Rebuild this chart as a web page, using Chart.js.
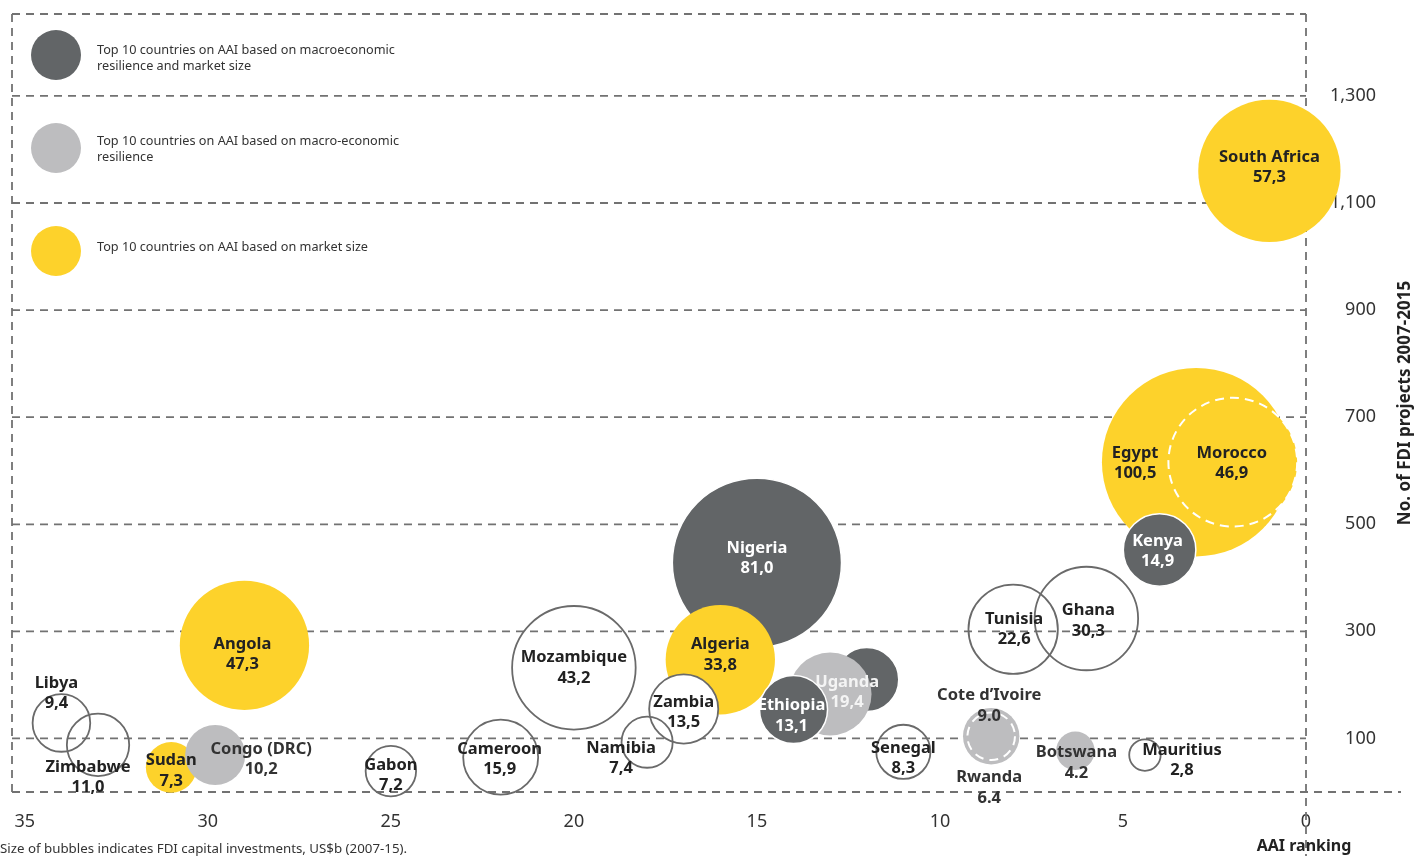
<!DOCTYPE html>
<html>
<head>
<meta charset="utf-8">
<script src="https://cdn.jsdelivr.net/npm/chart.js@4.4.0/dist/chart.umd.min.js"></script>
<style>
  html, body { margin: 0; padding: 0; background: #fff; }
  #wrap { width: 1415px; height: 856px; }
</style>
</head>
<body>
<div id="wrap"><canvas id="myChart" width="1415" height="856"></canvas></div>
<script>
// data, in drawing order (later ones sit on top)
let countries = ["Libya", "Zimbabwe", "Sudan", "Congo (DRC)", "Angola", "Gabon", "Cameroon", "Mozambique",
  "Nigeria", "Algeria", "Zambia", "Namibia", "Tanzania", "Uganda", "Ethiopia", "Senegal",
  "Cote d\u2019Ivoire", "Rwanda", "Tunisia", "Ghana", "Botswana", "Mauritius", "Egypt", "Morocco", "Kenya", "South Africa"];
let aaiRank = [34, 33, 31, 29.8, 29, 25, 22, 20, 15, 16, 17, 18, 12, 13, 14, 11, 8.6, 8.6, 8, 6, 6.3, 4.4, 3, 2, 4, 1];
let fdiProjects = [129, 88, 46, 69, 274, 39, 65, 232, 428, 247, 155, 93, 210, 183, 154, 75, 104, 104, 304, 324, 77, 69, 616, 616, 452, 1160];
let capital = [9.4, 11.0, 7.3, 10.2, 47.3, 7.2, 15.9, 43.2, 81.0, 33.8, 13.5, 7.4, 11.6, 19.4, 13.1, 8.3, 9.0, 6.4, 22.6, 30.3, 4.2, 2.8, 100.5, 46.9, 14.9, 57.3];
let group = ["none", "none", "market", "macro", "market", "none", "none", "none", "both", "market", "none", "none", "both", "macro", "both", "none",
  "macro", "macro", "none", "none", "macro", "none", "market", "market", "both", "market"];

let rankTicks = [35, 30, 25, 20, 15, 10, 5, 0];
let projectTicks = [100, 300, 500, 700, 900, 1100, 1300];

let legendGroups = ["both", "macro", "market"];
let legendLines = [
  ["Top 10 countries on AAI based on macroeconomic", "resilience and market size"],
  ["Top 10 countries on AAI based on macro-economic", "resilience"],
  ["Top 10 countries on AAI based on market size"],
];

// styles
const FONT = "'Noto Sans', sans-serif";
const fills = { both: "#626567", macro: "#bdbdbf", market: "#fdd22b", none: "rgba(255,255,255,0)" };
const textColors = { both: "#ffffff", macro: "#333333", market: "#222222", none: "#222222" };
const whiteFill = ["Zambia"];
const dashedRing = ["Morocco", "Rwanda"];
const dotDecimal = ["Cote d\u2019Ivoire", "Rwanda", "Botswana"];
const whiteText = ["Uganda"];
// label block centre, relative to the bubble centre (px)
const labelOffset = {
  "South Africa": [0, -4], "Egypt": [-61, 1], "Morocco": [-1, 1], "Kenya": [-2, 1], "Nigeria": [0, -5],
  "Tunisia": [1, 0], "Ghana": [2, 2], "Tanzania": [46, -25], "Mozambique": [0, 0], "Algeria": [0, -5],
  "Angola": [-2, 9], "Zambia": [0, 3], "Uganda": [17, -2], "Ethiopia": [-2, 6], "Cote d\u2019Ivoire": [-2, -31],
  "Rwanda": [-2, 51], "Senegal": [0, 6], "Botswana": [1, 12], "Mauritius": [37, 5], "Libya": [-5, -30],
  "Zimbabwe": [-10, 32], "Sudan": [0, 3], "Congo (DRC)": [46, 4], "Gabon": [0, 4], "Cameroon": [-1, 2], "Namibia": [-26, 16],
};
const K = 9.4; // bubble radius = K * sqrt(capital)

let bubbleData = [];
let bg = [], border = [], borderW = [];
for (let i = 0; i < countries.length; i++) {
  bubbleData.push({ x: aaiRank[i], y: fdiProjects[i], r: K * Math.sqrt(capital[i]) });
  if (whiteFill.includes(countries[i])) bg.push("#ffffff");
  else bg.push(fills[group[i]]);
  if (group[i] == "none") {
    border.push("#6a6a6a");
    borderW.push(1.8);
  } else if (group[i] == "both") {
    border.push("#ffffff");
    borderW.push(1.5);
  } else {
    border.push("rgba(0,0,0,0)");
    borderW.push(0);
  }
}

function dashLine(ctx, x1, y1, x2, y2) {
  ctx.beginPath();
  ctx.moveTo(x1, y1);
  ctx.lineTo(x2, y2);
  ctx.stroke();
}

const decor = {
  id: "decor",
  beforeDatasetsDraw(chart) {
    const { ctx, chartArea: a, scales: { x, y } } = chart;
    const x0 = x.getPixelForValue(0);
    const yb = y.getPixelForValue(0);
    ctx.save();
    ctx.strokeStyle = "#727272";
    ctx.lineWidth = 1.8;
    ctx.setLineDash([8, 6]);
    projectTicks.forEach((v) => dashLine(ctx, a.left, y.getPixelForValue(v), x0, y.getPixelForValue(v)));
    dashLine(ctx, a.left, a.top, x0, a.top);
    dashLine(ctx, a.left, yb, chart.width - 14, yb);
    dashLine(ctx, a.left, a.top, a.left, yb);
    dashLine(ctx, x0, a.top, x0, chart.height);
    ctx.setLineDash([]);

    // legend
    let cy = [55, 148, 251];
    let textY = [50, 141, 247];
    for (let i = 0; i < legendGroups.length; i++) {
      ctx.fillStyle = fills[legendGroups[i]];
      ctx.beginPath();
      ctx.arc(56, cy[i], 25, 0, Math.PI * 2);
      ctx.fill();
      ctx.fillStyle = "#333";
      ctx.font = "12.7px " + FONT;
      ctx.textAlign = "left";
      ctx.textBaseline = "middle";
      legendLines[i].forEach((t, j) => ctx.fillText(t, 97, textY[i] + j * 16));
    }
    ctx.restore();
  },
  afterDatasetsDraw(chart) {
    const { ctx } = chart;
    const meta = chart.getDatasetMeta(0);
    ctx.save();
    // dashed white rings
    ctx.strokeStyle = "#ffffff";
    ctx.lineWidth = 2;
    ctx.setLineDash([9, 6]);
    meta.data.forEach((el, i) => {
      if (!dashedRing.includes(countries[i])) return;
      ctx.beginPath();
      ctx.arc(el.x, el.y, el.options.radius, 0, Math.PI * 2);
      ctx.stroke();
    });
    ctx.setLineDash([]);

    // bubble labels
    ctx.font = "bold 16.5px " + FONT;
    ctx.textAlign = "center";
    ctx.textBaseline = "middle";
    meta.data.forEach((el, i) => {
      let name = countries[i];
      let off = labelOffset[name] || [0, 0];
      let val = capital[i].toFixed(1);
      if (!dotDecimal.includes(name)) val = val.replace(".", ",");
      ctx.fillStyle = whiteText.includes(name) ? "#f4f4f4" : textColors[group[i]];
      let cx = el.x + off[0];
      let cy = el.y + off[1];
      ctx.fillText(name, cx, cy - 10);
      ctx.fillText(val, cx, cy + 10.5);
    });
    ctx.restore();
  },
  afterDraw(chart) {
    const { ctx, scales: { x } } = chart;
    ctx.save();
    ctx.fillStyle = "#222";
    ctx.font = "bold 17px " + FONT;
    ctx.textAlign = "center";
    ctx.textBaseline = "middle";
    ctx.translate(1405, 403);
    ctx.rotate(-Math.PI / 2);
    ctx.fillText("No. of FDI projects 2007-2015", 0, 0);
    ctx.restore();

    ctx.save();
    ctx.fillStyle = "#222";
    ctx.font = "bold 16px " + FONT;
    ctx.textAlign = "center";
    ctx.textBaseline = "middle";
    ctx.fillText("AAI ranking", x.getPixelForValue(0) - 2, 846);
    ctx.font = "13.3px " + FONT;
    ctx.fillStyle = "#333";
    ctx.textAlign = "left";
    ctx.fillText("Size of bubbles indicates FDI capital investments, US$b (2007-15).", 0, 849);
    ctx.restore();
  },
};

let ctx = document.getElementById("myChart");
let chart = new Chart(ctx, {
  type: "bubble",
  data: {
    datasets: [
      {
        data: bubbleData,
        backgroundColor: bg,
        borderColor: border,
        borderWidth: borderW,
        hoverRadius: 0,
        clip: false,
      },
    ],
  },
  options: {
    responsive: false,
    devicePixelRatio: 1,
    animation: false,
    events: [],
    layout: { autoPadding: false, padding: { left: 12, top: 14, right: 39, bottom: 0 } },
    plugins: { legend: { display: false }, tooltip: { enabled: false } },
    scales: {
      x: {
        type: "linear",
        reverse: true,
        min: 0,
        max: 35.35,
        grid: { display: false, drawTicks: false },
        border: { display: false },
        afterBuildTicks: (axis) => { axis.ticks = rankTicks.map((v) => ({ value: v })); },
        afterFit: (axis) => { axis.height = 64; axis.paddingLeft = 0; axis.paddingRight = 0; },
        ticks: { padding: 19, color: "#333", font: { family: FONT, size: 18 }, maxRotation: 0, autoSkip: false },
      },
      y: {
        type: "linear",
        position: "right",
        min: 0,
        max: 1453,
        grid: { display: false, drawTicks: false },
        border: { display: false },
        afterBuildTicks: (axis) => { axis.ticks = projectTicks.map((v) => ({ value: v })); },
        afterFit: (axis) => { axis.width = 70; axis.paddingTop = 0; axis.paddingBottom = 0; },
        ticks: {
          padding: 24,
          crossAlign: "far",
          color: "#333",
          font: { family: FONT, size: 18 },
          callback: (v) => v.toLocaleString("en-US"),
        },
      },
    },
  },
  plugins: [decor],
});
</script>
</body>
</html>
